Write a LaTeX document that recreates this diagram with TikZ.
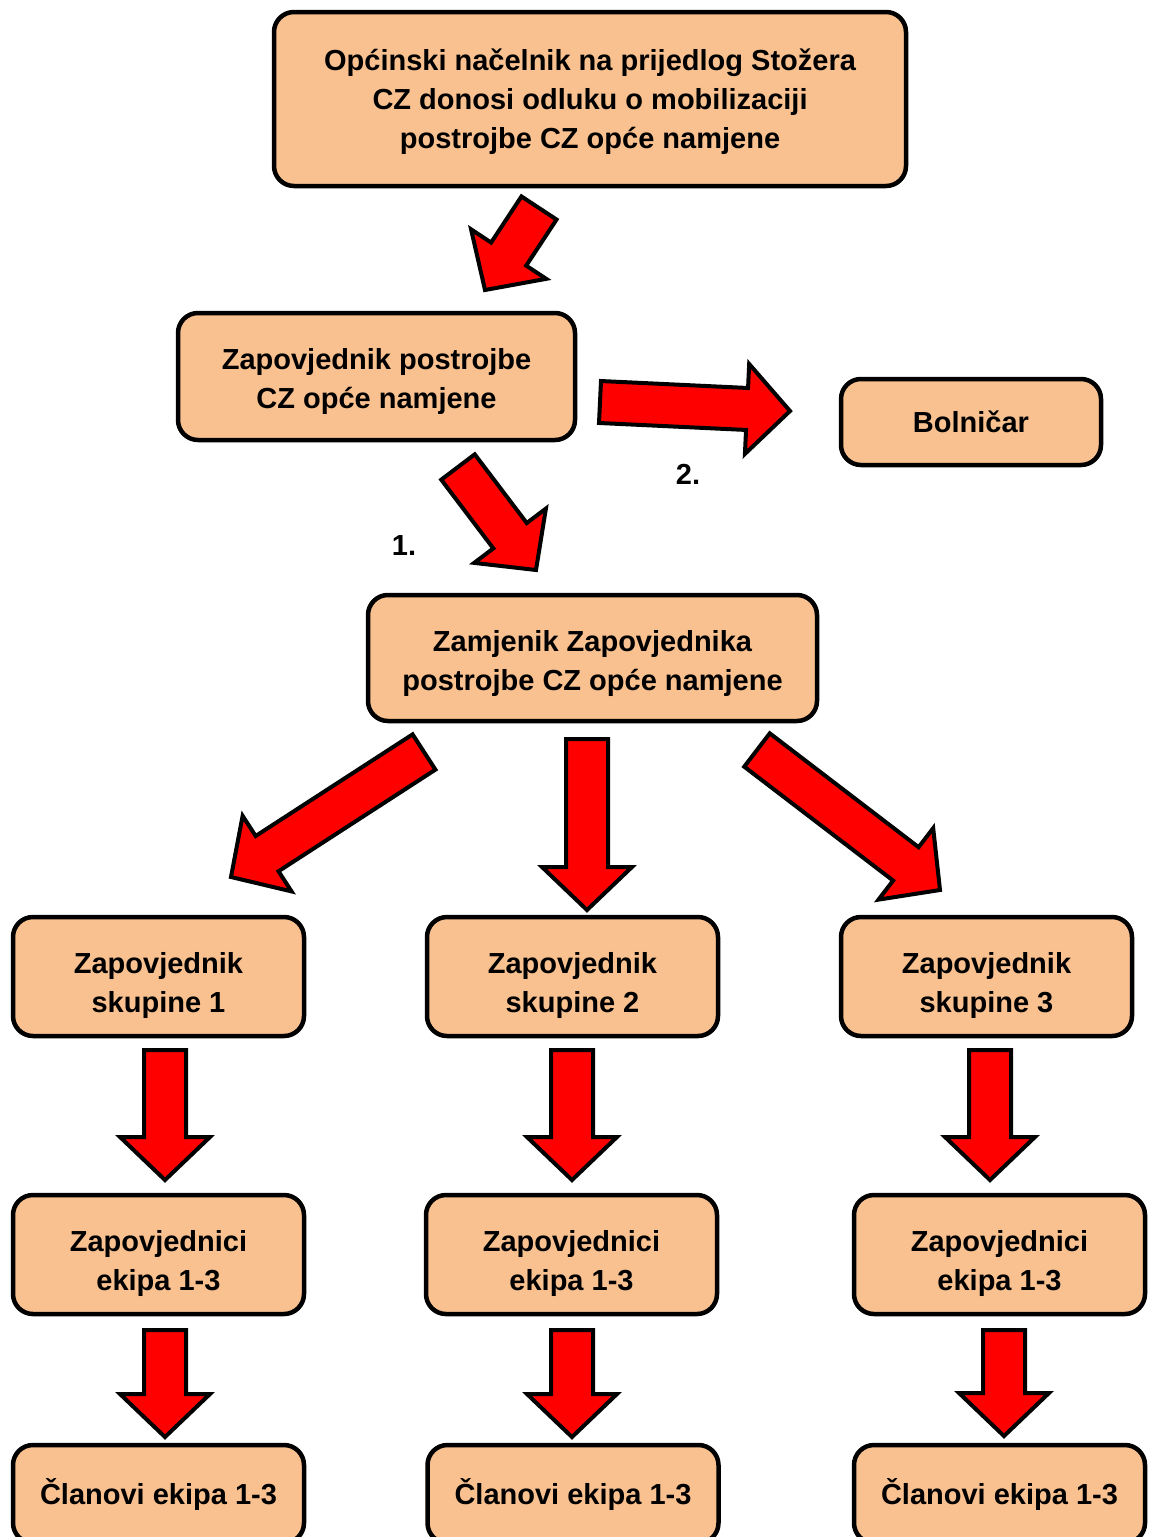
\documentclass[tikz,border=0pt]{standalone}
\usepackage{fontspec}
\setmainfont{Liberation Sans}
\usetikzlibrary{calc}
\definecolor{peach}{RGB}{249,193,143}
\newcommand{\lift}[1]{\rule{0pt}{#1}}
\tikzset{box/.style={draw,line width=4.5pt,fill=peach,rounded corners=20pt,align=center,inner sep=0pt,font=\fontsize{29}{39}\selectfont\bfseries},
  blockarrow/.style={draw,line width=4pt,fill=red,line join=miter},
  numlabel/.style={font=\fontsize{29}{39}\selectfont\bfseries}}
\newcommand{\blkarrow}[2]{%
  \coordinate (#1b) at ($(#2)!43pt!(#1)$);
  \draw[blockarrow]($(#1)!21pt!90:(#2)$)--($(#1b)!21pt!90:(#2)$)--($(#1b)!45pt!90:(#2)$)--(#2)--($(#1b)!45pt!-90:(#2)$)--($(#1b)!21pt!-90:(#2)$)--($(#1)!21pt!-90:(#2)$)--cycle;}

\begin{document}
\begin{tikzpicture}[x=1pt,y=-1pt]
        \useasboundingbox(0,0)rectangle(1149,1537);
        \node[box,minimum width=632pt,minimum height=174pt](nacelnik)at(590,99){\lift{27pt}Općinski načelnik na prijedlog Stožera\\CZ donosi odluku o mobilizaciji\\postrojbe CZ opće namjene};
        \node[box,minimum width=397pt,minimum height=127pt](zapovjednik)at(376.5,376.5){\lift{31pt}Zapovjednik postrojbe\\CZ opće namjene};
        \node[box,minimum width=260pt,minimum height=86pt](bolnicar)at(971,422){Bolničar};
        \node[box,minimum width=449pt,minimum height=126pt](zamjenik)at(592.5,658){\lift{31pt}Zamjenik Zapovjednika\\postrojbe CZ opće namjene};

        \node[box,minimum width=291pt,minimum height=119pt](skupina1)at(158.5,976.5){\lift{39pt}Zapovjednik\\skupine 1};
        \node[box,minimum width=291pt,minimum height=119pt](skupina2)at(572.5,976.5){\lift{39pt}Zapovjednik\\skupine 2};
        \node[box,minimum width=291pt,minimum height=119pt](skupina3)at(986.5,976.5){\lift{39pt}Zapovjednik\\skupine 3};
        \node[box,minimum width=291pt,minimum height=119pt](ekipa1)at(158.5,1254.5){\lift{39pt}Zapovjednici\\ekipa 1-3};
        \node[box,minimum width=291pt,minimum height=119pt](ekipa2)at(571.5,1254.5){\lift{39pt}Zapovjednici\\ekipa 1-3};
        \node[box,minimum width=291pt,minimum height=119pt](ekipa3)at(999.5,1254.5){\lift{39pt}Zapovjednici\\ekipa 1-3};
        \node[box,minimum width=291pt,minimum height=98pt](clanovi1)at(158.5,1494){Članovi ekipa 1-3};
        \node[box,minimum width=291pt,minimum height=98pt](clanovi2)at(573,1494){Članovi ekipa 1-3};
        \node[box,minimum width=291pt,minimum height=98pt](clanovi3)at(999.5,1494){Članovi ekipa 1-3};

        \coordinate(a1s)at(539,208);\coordinate(a1e)at(485,290);
        \coordinate(a2s)at(600,402);\coordinate(a2e)at(790,411);
        \coordinate(a3s)at(458,467);\coordinate(a3e)at(536,570);
        \coordinate(a4s)at(424,752);\coordinate(a4e)at(231,877);
        \coordinate(a5s)at(587,739);\coordinate(a5e)at(587,910);
        \coordinate(a6s)at(757,750);\coordinate(a6e)at(940,890);
        \coordinate(b1s)at(165,1050);\coordinate(b1e)at(165,1180);
        \coordinate(b2s)at(572,1050);\coordinate(b2e)at(572,1180);
        \coordinate(b3s)at(990,1050);\coordinate(b3e)at(990,1180);
        \coordinate(c1s)at(165,1330);\coordinate(c1e)at(165,1437);
        \coordinate(c2s)at(572,1330);\coordinate(c2e)at(572,1437);
        \coordinate(c3s)at(1004,1330);\coordinate(c3e)at(1004,1436);
        \blkarrow{a1s}{a1e}\blkarrow{a2s}{a2e}\blkarrow{a3s}{a3e}
        \blkarrow{a4s}{a4e}\blkarrow{a5s}{a5e}\blkarrow{a6s}{a6e}
        \blkarrow{b1s}{b1e}\blkarrow{b2s}{b2e}\blkarrow{b3s}{b3e}
        \blkarrow{c1s}{c1e}\blkarrow{c2s}{c2e}\blkarrow{c3s}{c3e}

        \node[numlabel](prvi)at(404,546){1.};
        \node[numlabel](drugi)at(688,474){2.};
    \end{tikzpicture}
\end{document}
